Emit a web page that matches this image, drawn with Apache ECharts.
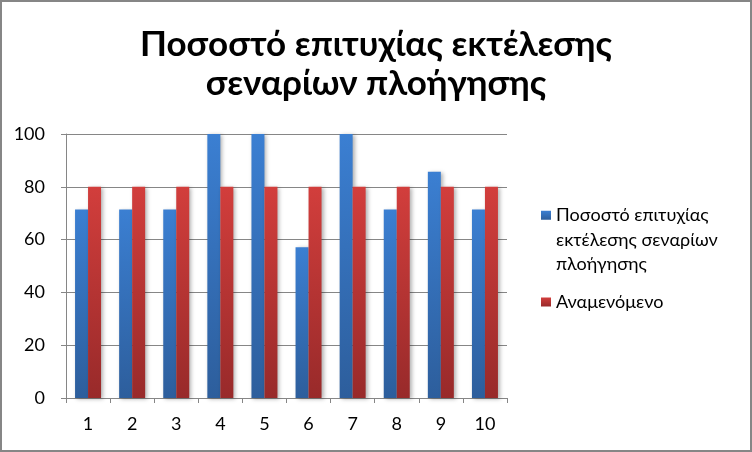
<!DOCTYPE html>
<html><head><meta charset="utf-8">
<script src="https://cdn.jsdelivr.net/npm/echarts@6/dist/echarts.min.js"></script>
<style>html,body{margin:0;padding:0;background:#fff}#c{width:752px;height:452px}</style>
</head><body><div id="c"></div>
<script>
const categories = ['1','2','3','4','5','6','7','8','9','10'];
const successRate = [71.4, 71.4, 71.4, 100, 100, 57.1, 100, 71.4, 85.7, 71.4];
const expected = [80, 80, 80, 80, 80, 80, 80, 80, 80, 80];
const seriesNames = ['Ποσοστό επιτυχίας εκτέλεσης σεναρίων πλοήγησης', 'Αναμενόμενο'];
const titleText = 'Ποσοστό επιτυχίας εκτέλεσης\nσεναρίων πλοήγησης';

const font = 'Lato, "Noto Sans", sans-serif';
const chart = echarts.init(document.getElementById('c'));
function grad(top, bottom){
  return new echarts.graphic.LinearGradient(0,0,0,1,[{offset:0,color:top},{offset:1,color:bottom}]);
}
chart.setOption({
  animation:false,
  backgroundColor:'#fff',
  title:{text:titleText,left:'center',top:20,
    textStyle:{fontFamily:font,fontWeight:'bold',fontSize:35,lineHeight:39,color:'#000'}},
  graphic:[{type:'rect',shape:{x:1,y:1,width:750,height:450},style:{fill:'none',stroke:'#868686',lineWidth:2},silent:true}],
  legend:[
    {data:[seriesNames[0]],orient:'vertical',left:536,top:149,itemWidth:10,itemHeight:9,
     icon:'rect',formatter:()=> ' \n \nΠοσοστό επιτυχίας\nεκτέλεσης σεναρίων\nπλοήγησης',
     textStyle:{fontFamily:font,fontSize:18,color:'#000',lineHeight:24.5}},
    {data:[seriesNames[1]],orient:'vertical',left:536,top:288,itemWidth:10,itemHeight:9,
     icon:'rect',textStyle:{fontFamily:font,fontSize:18,color:'#000'}}
  ],
  grid:{left:66,right:245,top:134,bottom:54},
  xAxis:{type:'category',data:categories,
    axisLine:{lineStyle:{color:'#868686',width:1}},
    axisTick:{show:true,length:5,lineStyle:{color:'#868686'}},
    axisLabel:{color:'#000',fontFamily:font,fontSize:18,margin:17}},
  yAxis:{type:'value',min:0,max:100,interval:20,
    axisLine:{show:true,lineStyle:{color:'#868686',width:1}},
    axisTick:{show:true,length:5,lineStyle:{color:'#868686'}},
    splitLine:{lineStyle:{color:'#868686',width:1}},
    axisLabel:{color:'#000',fontFamily:font,fontSize:18,margin:21}},
  series:[
    {name:seriesNames[0],type:'bar',data:successRate,barWidth:13,barGap:'0%',
     itemStyle:{color:grad('#3B7FD2','#2D5E9C'),shadowColor:'rgba(0,0,0,0.3)',shadowBlur:4,shadowOffsetX:2,shadowOffsetY:1}},
    {name:seriesNames[1],type:'bar',data:expected,barWidth:13,barGap:'0%',
     itemStyle:{color:grad('#D23E3C','#982A2A'),shadowColor:'rgba(0,0,0,0.3)',shadowBlur:4,shadowOffsetX:2,shadowOffsetY:1}}
  ]
});
</script></body></html>
